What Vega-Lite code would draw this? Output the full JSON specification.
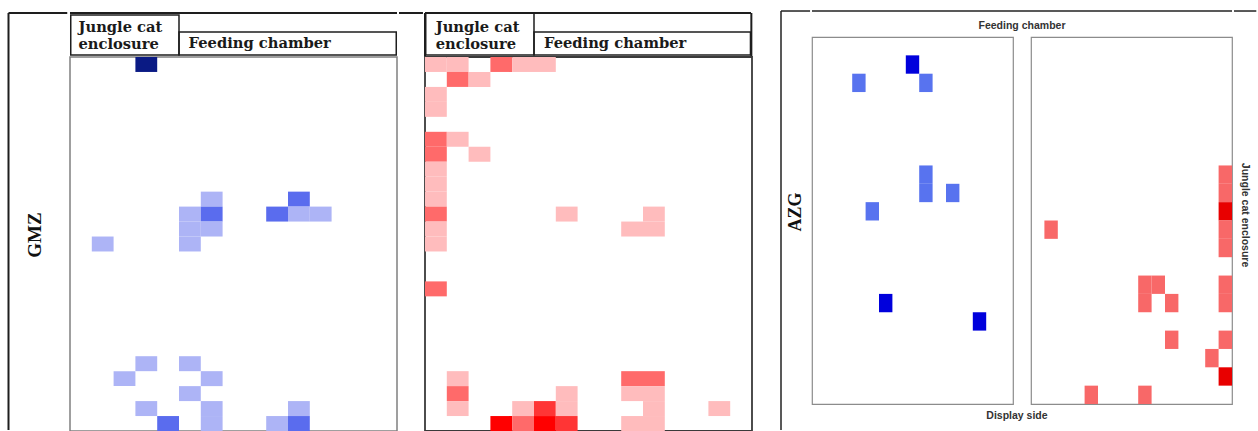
{
  "$schema": "https://vega.github.io/schema/vega-lite/v6.json",
  "padding": {"left": 7, "top": 10, "right": 0, "bottom": 0},
  "background": "white",
  "config": {"view": {"stroke": null}},
  "datasets": {
    "GMZ_blue": [
      {"col": 3, "row": 0, "level": 3},
      {"col": 6, "row": 9, "level": 1}, {"col": 10, "row": 9, "level": 2},
      {"col": 5, "row": 10, "level": 1}, {"col": 6, "row": 10, "level": 2}, {"col": 9, "row": 10, "level": 2}, {"col": 10, "row": 10, "level": 1}, {"col": 11, "row": 10, "level": 1},
      {"col": 5, "row": 11, "level": 1}, {"col": 6, "row": 11, "level": 1},
      {"col": 1, "row": 12, "level": 1}, {"col": 5, "row": 12, "level": 1},
      {"col": 3, "row": 20, "level": 1}, {"col": 5, "row": 20, "level": 1},
      {"col": 2, "row": 21, "level": 1}, {"col": 6, "row": 21, "level": 1},
      {"col": 5, "row": 22, "level": 1},
      {"col": 3, "row": 23, "level": 1}, {"col": 6, "row": 23, "level": 1}, {"col": 10, "row": 23, "level": 1},
      {"col": 4, "row": 24, "level": 2}, {"col": 6, "row": 24, "level": 1}, {"col": 9, "row": 24, "level": 1}, {"col": 10, "row": 24, "level": 2}
    ],
    "GMZ_red": [
      {"col": 0, "row": 0, "level": 1}, {"col": 1, "row": 0, "level": 1}, {"col": 3, "row": 0, "level": 2}, {"col": 4, "row": 0, "level": 1}, {"col": 5, "row": 0, "level": 1},
      {"col": 1, "row": 1, "level": 2}, {"col": 2, "row": 1, "level": 1},
      {"col": 0, "row": 2, "level": 1},
      {"col": 0, "row": 3, "level": 1},
      {"col": 0, "row": 5, "level": 2}, {"col": 1, "row": 5, "level": 1},
      {"col": 0, "row": 6, "level": 2}, {"col": 2, "row": 6, "level": 1},
      {"col": 0, "row": 7, "level": 1},
      {"col": 0, "row": 8, "level": 1},
      {"col": 0, "row": 9, "level": 1},
      {"col": 0, "row": 10, "level": 2}, {"col": 6, "row": 10, "level": 1}, {"col": 10, "row": 10, "level": 1},
      {"col": 0, "row": 11, "level": 1}, {"col": 9, "row": 11, "level": 1}, {"col": 10, "row": 11, "level": 1},
      {"col": 0, "row": 12, "level": 1},
      {"col": 0, "row": 15, "level": 2},
      {"col": 1, "row": 21, "level": 1}, {"col": 9, "row": 21, "level": 2}, {"col": 10, "row": 21, "level": 2},
      {"col": 1, "row": 22, "level": 2}, {"col": 6, "row": 22, "level": 1}, {"col": 9, "row": 22, "level": 1}, {"col": 10, "row": 22, "level": 1},
      {"col": 1, "row": 23, "level": 1}, {"col": 4, "row": 23, "level": 1}, {"col": 5, "row": 23, "level": 3}, {"col": 6, "row": 23, "level": 1}, {"col": 10, "row": 23, "level": 1}, {"col": 13, "row": 23, "level": 1},
      {"col": 3, "row": 24, "level": 4}, {"col": 4, "row": 24, "level": 2}, {"col": 5, "row": 24, "level": 4}, {"col": 6, "row": 24, "level": 3}, {"col": 9, "row": 24, "level": 1}, {"col": 10, "row": 24, "level": 1}
    ],
    "AZG_blue": [
      {"col": 7, "row": 1, "level": 2},
      {"col": 3, "row": 2, "level": 1}, {"col": 8, "row": 2, "level": 1},
      {"col": 8, "row": 7, "level": 1}, {"col": 8, "row": 8, "level": 1}, {"col": 10, "row": 8, "level": 1},
      {"col": 4, "row": 9, "level": 1},
      {"col": 5, "row": 14, "level": 2},
      {"col": 12, "row": 15, "level": 2}
    ],
    "AZG_red": [
      {"col": 14, "row": 7, "level": 1}, {"col": 14, "row": 8, "level": 1}, {"col": 14, "row": 9, "level": 2}, {"col": 14, "row": 10, "level": 1}, {"col": 14, "row": 11, "level": 1},
      {"col": 1, "row": 10, "level": 1},
      {"col": 8, "row": 13, "level": 1}, {"col": 9, "row": 13, "level": 1}, {"col": 14, "row": 13, "level": 1},
      {"col": 8, "row": 14, "level": 1}, {"col": 10, "row": 14, "level": 1}, {"col": 14, "row": 14, "level": 1},
      {"col": 10, "row": 16, "level": 1}, {"col": 14, "row": 16, "level": 1},
      {"col": 13, "row": 17, "level": 1},
      {"col": 14, "row": 18, "level": 2},
      {"col": 4, "row": 19, "level": 1}, {"col": 8, "row": 19, "level": 1}
    ]
  },
  "spacing": 0,
  "resolve": {"scale": {"color": "independent"}},
  "hconcat": [
    {
      "width": 60.25,
      "height": 421,
      "data": {"values": [{"label": "GMZ"}]},
      "layer": [
        {
          "mark": {"type": "rule", "color": "#1e1e1e", "strokeWidth": 2},
          "encoding": {
            "x": {"datum": 0.0249, "type": "quantitative", "scale": {"domain": [0, 1], "nice": false, "zero": false}, "axis": null},
            "y": {"datum": 0.9929, "type": "quantitative", "scale": {"domain": [0, 1], "nice": false, "zero": false}, "axis": null},
            "y2": {"datum": 0.0024}
          }
        },
        {
          "mark": {"type": "rule", "color": "#1e1e1e", "strokeWidth": 2},
          "encoding": {
            "x": {"datum": 0.0249, "axis": null},
            "x2": {"datum": 1},
            "y": {"datum": 0.9929, "axis": null}
          }
        },
        {
          "mark": {"type": "text", "angle": 270, "font": "Liberation Serif", "fontWeight": "bold", "fontSize": 19, "align": "center", "baseline": "middle", "color": "#111111"},
          "encoding": {
            "text": {"field": "label"},
            "x": {"datum": 0.465, "axis": null},
            "y": {"datum": 0.4656, "axis": null}
          }
        }
      ]
    },
    {
      "spacing": 0,
      "bounds": "flush",
      "vconcat": [
        {
          "width": 327,
          "height": 47,
          "data": {"values": [{}]},
          "layer": [
            {
              "mark": {"type": "rule", "color": "#1e1e1e", "strokeWidth": 2},
              "encoding": {
                "x": {"datum": 0, "type": "quantitative", "scale": {"domain": [0, 15], "nice": false, "zero": false}, "axis": null},
                "x2": {"datum": 15},
                "y": {"datum": 0.936, "type": "quantitative", "scale": {"domain": [0, 1], "nice": false, "zero": false}, "axis": null}
              }
            },
            {
              "mark": {"type": "rect", "fill": "transparent", "stroke": "#1e1e1e", "strokeWidth": 1.5},
              "encoding": {
                "x": {"datum": 0.0344, "axis": null}, "x2": {"datum": 5},
                "y": {"datum": 0.0426, "axis": null}, "y2": {"datum": 0.894}
              }
            },
            {
              "mark": {"type": "rect", "fill": "transparent", "stroke": "#1e1e1e", "strokeWidth": 1.5},
              "encoding": {
                "x": {"datum": 5, "axis": null}, "x2": {"datum": 14.966},
                "y": {"datum": 0.0426, "axis": null}, "y2": {"datum": 0.532}
              }
            },
            {
              "data": {"values": [{"zone": "Jungle cat\nenclosure"}]},
              "mark": {"type": "text", "align": "left", "baseline": "middle", "font": "DejaVu Serif", "fontWeight": "bold", "fontSize": 14.7, "lineHeight": 17, "lineBreak": "\n", "color": "#1a1a1a"},
              "encoding": {
                "text": {"field": "zone"},
                "x": {"datum": 0.39, "axis": null},
                "y": {"datum": 0.615, "axis": null}
              }
            },
            {
              "data": {"values": [{"zone": "Feeding chamber"}]},
              "mark": {"type": "text", "align": "left", "baseline": "middle", "font": "DejaVu Serif", "fontWeight": "bold", "fontSize": 14.7, "color": "#1a1a1a"},
              "encoding": {
                "text": {"field": "zone"},
                "x": {"datum": 5.44, "axis": null},
                "y": {"datum": 0.277, "axis": null}
              }
            }
          ]
        },
        {
          "width": 327,
          "height": 374,
          "view": {"stroke": "#808080", "strokeWidth": 1.5},
          "data": {"name": "GMZ_blue"},
          "mark": {"type": "rect"},
          "encoding": {
            "x": {"field": "col", "type": "ordinal", "scale": {"domain": [0,1,2,3,4,5,6,7,8,9,10,11,12,13,14], "padding": 0}, "axis": null},
            "y": {"field": "row", "type": "ordinal", "scale": {"domain": [0,1,2,3,4,5,6,7,8,9,10,11,12,13,14,15,16,17,18,19,20,21,22,23,24], "padding": 0}, "axis": null},
            "color": {"field": "level", "type": "ordinal", "scale": {"domain": [1, 2, 3], "range": ["#adb4f6", "#5a6cee", "#0a1a84"]}, "legend": null}
          }
        }
      ]
    },
    {
      "width": 23.95,
      "height": 421,
      "data": {"values": [{}]},
      "mark": {"type": "rule", "color": "#1e1e1e", "strokeWidth": 2},
      "encoding": {
        "x": {"datum": 0, "type": "quantitative", "scale": {"domain": [0, 1], "nice": false, "zero": false}, "axis": null},
        "x2": {"datum": 1},
        "y": {"datum": 0.9929, "type": "quantitative", "scale": {"domain": [0, 1], "nice": false, "zero": false}, "axis": null}
      }
    },
    {
      "spacing": 0,
      "bounds": "flush",
      "vconcat": [
        {
          "width": 327,
          "height": 47,
          "data": {"values": [{}]},
          "layer": [
            {
              "mark": {"type": "rule", "color": "#1e1e1e", "strokeWidth": 2},
              "encoding": {
                "x": {"datum": 0, "type": "quantitative", "scale": {"domain": [0, 15], "nice": false, "zero": false}, "axis": null},
                "x2": {"datum": 14.954},
                "y": {"datum": 0.936, "type": "quantitative", "scale": {"domain": [0, 1], "nice": false, "zero": false}, "axis": null}
              }
            },
            {
              "mark": {"type": "rule", "color": "#1e1e1e", "strokeWidth": 2},
              "encoding": {
                "x": {"datum": 0, "axis": null},
                "y": {"datum": 0.936, "axis": null}, "y2": {"datum": 0}
              }
            },
            {
              "mark": {"type": "rule", "color": "#1e1e1e", "strokeWidth": 2},
              "encoding": {
                "x": {"datum": 14.97, "axis": null},
                "y": {"datum": 0.936, "axis": null}, "y2": {"datum": 0}
              }
            },
            {
              "mark": {"type": "rect", "fill": "transparent", "stroke": "#1e1e1e", "strokeWidth": 1.5},
              "encoding": {
                "x": {"datum": 0.0344, "axis": null}, "x2": {"datum": 5},
                "y": {"datum": 0.0426, "axis": null}, "y2": {"datum": 0.936}
              }
            },
            {
              "mark": {"type": "rect", "fill": "transparent", "stroke": "#1e1e1e", "strokeWidth": 1.5},
              "encoding": {
                "x": {"datum": 5, "axis": null}, "x2": {"datum": 14.93},
                "y": {"datum": 0.0426, "axis": null}, "y2": {"datum": 0.532}
              }
            },
            {
              "data": {"values": [{"zone": "Jungle cat\nenclosure"}]},
              "mark": {"type": "text", "align": "left", "baseline": "middle", "font": "DejaVu Serif", "fontWeight": "bold", "fontSize": 14.7, "lineHeight": 17, "lineBreak": "\n", "color": "#1a1a1a"},
              "encoding": {
                "text": {"field": "zone"},
                "x": {"datum": 0.49, "axis": null},
                "y": {"datum": 0.615, "axis": null}
              }
            },
            {
              "data": {"values": [{"zone": "Feeding chamber"}]},
              "mark": {"type": "text", "align": "left", "baseline": "middle", "font": "DejaVu Serif", "fontWeight": "bold", "fontSize": 14.7, "color": "#1a1a1a"},
              "encoding": {
                "text": {"field": "zone"},
                "x": {"datum": 5.46, "axis": null},
                "y": {"datum": 0.277, "axis": null}
              }
            }
          ]
        },
        {
          "width": 327,
          "height": 374,
          "view": {"stroke": "#3a3a3a", "strokeWidth": 1.8},
          "data": {"name": "GMZ_red"},
          "mark": {"type": "rect"},
          "encoding": {
            "x": {"field": "col", "type": "ordinal", "scale": {"domain": [0,1,2,3,4,5,6,7,8,9,10,11,12,13,14], "padding": 0}, "axis": null},
            "y": {"field": "row", "type": "ordinal", "scale": {"domain": [0,1,2,3,4,5,6,7,8,9,10,11,12,13,14,15,16,17,18,19,20,21,22,23,24], "padding": 0}, "axis": null},
            "color": {"field": "level", "type": "ordinal", "scale": {"domain": [1, 2, 3, 4], "range": ["#ffbcbd", "#ff6a6a", "#ff3535", "#ff0000"]}, "legend": null}
          }
        }
      ]
    },
    {
      "width": 26.2,
      "height": 421,
      "data": {"values": [{}]},
      "mark": {"type": "rule", "opacity": 0},
      "encoding": {
        "x": {"datum": 0.5, "type": "quantitative", "scale": {"domain": [0, 1], "nice": false, "zero": false}, "axis": null},
        "y": {"datum": 0.5, "type": "quantitative", "scale": {"domain": [0, 1], "nice": false, "zero": false}, "axis": null},
        "y2": {"datum": 0.6}
      }
    },
    {
      "width": 30.05,
      "height": 421,
      "data": {"values": [{"label": "AZG"}]},
      "layer": [
        {
          "mark": {"type": "rule", "color": "#222222", "strokeWidth": 1.5},
          "encoding": {
            "x": {"datum": 0.0333, "type": "quantitative", "scale": {"domain": [0, 1], "nice": false, "zero": false}, "axis": null},
            "y": {"datum": 0.9976, "type": "quantitative", "scale": {"domain": [0, 1], "nice": false, "zero": false}, "axis": null},
            "y2": {"datum": 0.0024}
          }
        },
        {
          "mark": {"type": "rule", "color": "#222222", "strokeWidth": 1.5},
          "encoding": {
            "x": {"datum": 0.0333, "axis": null}, "x2": {"datum": 1},
            "y": {"datum": 0.9976, "axis": null}
          }
        },
        {
          "mark": {"type": "text", "angle": 270, "font": "Liberation Serif", "fontWeight": "bold", "fontSize": 18, "align": "center", "baseline": "middle", "color": "#111111"},
          "encoding": {
            "text": {"field": "label"},
            "x": {"datum": 0.532, "axis": null},
            "y": {"datum": 0.52, "axis": null}
          }
        }
      ]
    },
    {
      "spacing": 0,
      "resolve": {"scale": {"color": "independent"}},
      "vconcat": [
        {
          "width": 420,
          "height": 26,
          "data": {"values": [{"label": "Feeding chamber"}]},
          "layer": [
            {
              "mark": {"type": "rule", "color": "#222222", "strokeWidth": 1.5},
              "encoding": {
                "x": {"datum": 0, "type": "quantitative", "scale": {"domain": [0, 1], "nice": false, "zero": false}, "axis": null},
                "x2": {"datum": 1},
                "y": {"datum": 0.9615, "type": "quantitative", "scale": {"domain": [0, 1], "nice": false, "zero": false}, "axis": null}
              }
            },
            {
              "mark": {"type": "text", "font": "Liberation Sans", "fontWeight": "bold", "fontSize": 10.5, "align": "center", "baseline": "middle", "color": "#333333"},
              "encoding": {
                "text": {"field": "label"},
                "x": {"datum": 0.5, "axis": null},
                "y": {"datum": 0.385, "axis": null}
              }
            }
          ]
        },
        {
          "spacing": 18,
          "bounds": "flush",
          "resolve": {"scale": {"color": "independent"}},
          "hconcat": [
            {
              "width": 201,
              "height": 367,
              "view": {"stroke": "#8c8c8c", "strokeWidth": 1.2},
              "data": {"name": "AZG_blue"},
              "mark": {"type": "rect"},
              "encoding": {
                "x": {"field": "col", "type": "ordinal", "scale": {"domain": [0,1,2,3,4,5,6,7,8,9,10,11,12,13,14], "padding": 0}, "axis": null},
                "y": {"field": "row", "type": "ordinal", "scale": {"domain": [0,1,2,3,4,5,6,7,8,9,10,11,12,13,14,15,16,17,18,19], "padding": 0}, "axis": null},
                "color": {"field": "level", "type": "ordinal", "scale": {"domain": [1, 2], "range": ["#5873ef", "#0000dc"]}, "legend": null}
              }
            },
            {
              "width": 201,
              "height": 367,
              "view": {"stroke": "#8c8c8c", "strokeWidth": 1.2},
              "data": {"name": "AZG_red"},
              "mark": {"type": "rect"},
              "encoding": {
                "x": {"field": "col", "type": "ordinal", "scale": {"domain": [0,1,2,3,4,5,6,7,8,9,10,11,12,13,14], "padding": 0}, "axis": null},
                "y": {"field": "row", "type": "ordinal", "scale": {"domain": [0,1,2,3,4,5,6,7,8,9,10,11,12,13,14,15,16,17,18,19], "padding": 0}, "axis": null},
                "color": {"field": "level", "type": "ordinal", "scale": {"domain": [1, 2], "range": ["#f86868", "#e80000"]}, "legend": null}
              }
            }
          ]
        },
        {
          "width": 420,
          "height": 28,
          "data": {"values": [{"label": "Display side"}]},
          "mark": {"type": "text", "font": "Liberation Sans", "fontWeight": "bold", "fontSize": 10.5, "align": "center", "baseline": "middle", "color": "#333333"},
          "encoding": {
            "text": {"field": "label"},
            "x": {"datum": 0.488, "type": "quantitative", "scale": {"domain": [0, 1], "nice": false, "zero": false}, "axis": null},
            "y": {"datum": 0.607, "type": "quantitative", "scale": {"domain": [0, 1], "nice": false, "zero": false}, "axis": null}
          }
        }
      ]
    },
    {
      "width": 22.3,
      "height": 421,
      "data": {"values": [{"label": "Jungle cat enclosure"}]},
      "layer": [
        {
          "mark": {"type": "rule", "color": "#222222", "strokeWidth": 1.5},
          "encoding": {
            "x": {"datum": 0, "type": "quantitative", "scale": {"domain": [0, 1], "nice": false, "zero": false}, "axis": null},
            "x2": {"datum": 1},
            "y": {"datum": 0.9976, "type": "quantitative", "scale": {"domain": [0, 1], "nice": false, "zero": false}, "axis": null}
          }
        },
        {
          "mark": {"type": "text", "angle": 90, "font": "Liberation Sans", "fontWeight": "bold", "fontSize": 10.5, "align": "center", "baseline": "middle", "color": "#333333"},
          "encoding": {
            "text": {"field": "label"},
            "x": {"datum": 0.5, "axis": null},
            "y": {"datum": 0.513, "axis": null}
          }
        }
      ]
    }
  ]
}
